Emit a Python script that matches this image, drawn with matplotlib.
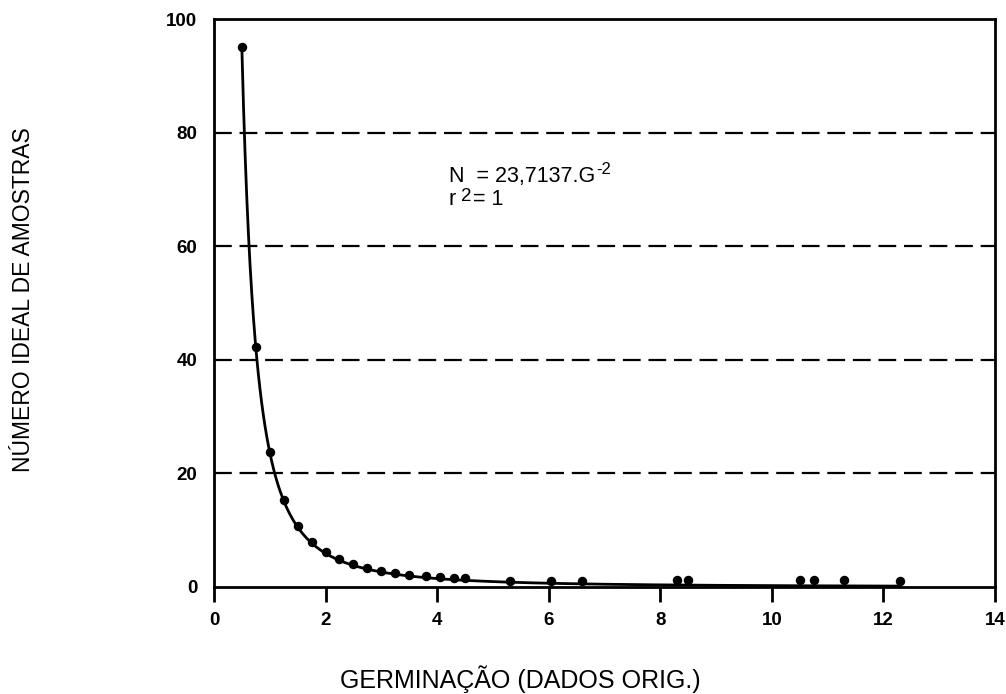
import matplotlib
matplotlib.use("Agg")
import numpy as np
import matplotlib.pyplot as plt
from matplotlib.transforms import IdentityTransform

# Data
germinacao = [0.5, 0.75, 1.0, 1.25, 1.5, 1.75, 2.0, 2.25, 2.5, 2.75, 3.0, 3.25,
              3.5, 3.8, 4.05, 4.3, 4.5, 5.3, 6.05, 6.6, 8.3, 8.5, 10.5, 10.75,
              11.3, 12.3]
n_amostras = [95.0, 42.2, 23.8, 15.4, 10.7, 8.0, 6.2, 4.9, 4.0, 3.4, 2.9, 2.5,
              2.1, 2.0, 1.8, 1.6, 1.5, 1.1, 1.1, 1.1, 1.2, 1.2, 1.2, 1.2,
              1.2, 1.1]
# Fitted model printed on the chart: N = 23,7137 . G^-2
fit_coef = 23.7137
fit_exp = -2
grid_levels = [20, 40, 60, 80]
x_ticks = [0, 2, 4, 6, 8, 10, 12, 14]
y_ticks = [0, 20, 40, 60, 80, 100]

plt.rcParams['font.family'] = ['Liberation Sans', 'DejaVu Sans']

W, H = 1006, 694
fig = plt.figure(figsize=(W / 100, H / 100), dpi=100)
ax = fig.add_axes([0.2127, 0.1542, 0.7763, 0.8184])

for lv in grid_levels:
    ax.axhline(lv, color='black', lw=1.6, linestyle=(0, (8, 3.5)), zorder=1)

g = np.linspace(min(germinacao), max(germinacao), 400)
ax.plot(g, fit_coef * g ** fit_exp, color='black', lw=2.0, zorder=2)
ax.plot(germinacao, n_amostras, linestyle='none', color='black', marker='o',
        markersize=5.8, zorder=3)

ax.set_xlim(0, 14)
ax.set_ylim(0, 100)
ax.set_xticks(x_ticks)
ax.set_yticks(y_ticks)
ax.set_xticklabels([str(t) for t in x_ticks], fontsize=13.5, fontweight='bold')
ax.set_yticklabels([str(t) for t in y_ticks], fontsize=13.5, fontweight='bold')
ax.tick_params(axis='x', direction='out', length=11, width=2, pad=7)
ax.tick_params(axis='y', length=0, pad=12)

for sp in ax.spines.values():
    sp.set_linewidth(2.0)
    sp.set_color('black')

# Equation annotation
fs = 15.5
x0, base1, base2 = 449, H - 182, H - 205
t1 = fig.text(x0, base1, 'N  = 23,7137.G', transform=IdentityTransform(),
              fontsize=fs, va='baseline', ha='left')
r = fig.canvas.get_renderer()
bb = t1.get_window_extent(r)
fig.text(bb.x1 + 1, base1 + 8, '-2', transform=IdentityTransform(),
         fontsize=12, va='baseline', ha='left')

t2 = fig.text(x0, base2, 'r', transform=IdentityTransform(),
              fontsize=fs, va='baseline', ha='left')
bb2 = t2.get_window_extent(r)
t3 = fig.text(bb2.x1 + 5, base2 + 4, '2', transform=IdentityTransform(),
              fontsize=13.5, va='baseline', ha='left')
bb3 = t3.get_window_extent(r)
fig.text(bb3.x1 + 1, base2, '= 1', transform=IdentityTransform(),
         fontsize=fs, va='baseline', ha='left')

fig.text(23.5 / W, 1 - 300 / H, 'NÚMERO IDEAL DE AMOSTRAS', rotation=90,
         fontsize=16.5, ha='center', va='center')
fig.text(520 / W, 1 - 679 / H, 'GERMINAÇÃO (DADOS ORIG.)',
         fontsize=18, ha='center', va='center')

fig.savefig('out.png', dpi=100)
